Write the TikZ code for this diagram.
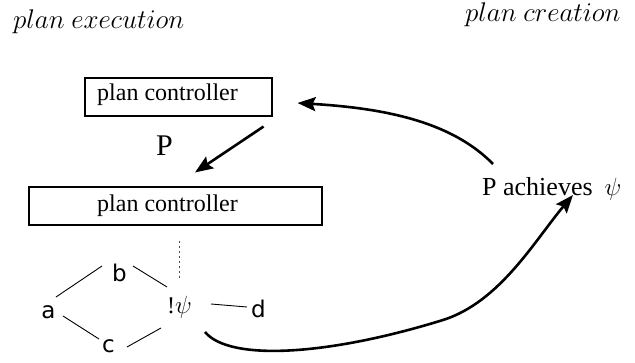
\documentclass[tikz,border=0pt]{standalone}
\usepackage{fontspec}
\setmainfont{Liberation Serif}
\newfontfamily\lettersf{DejaVu Sans}
\usetikzlibrary{arrows.meta}
\begin{document}
\begin{tikzpicture}[x=1pt,y=-1pt,
  pcbox/.style={draw,line width=1.1pt,inner sep=0pt},
  serif/.style={inner sep=0pt,anchor=base west,font=\fontsize{24}{28}\selectfont},
  heading/.style={inner sep=0pt,anchor=base west,scale=1.085,font=\fontsize{24.88}{30}\selectfont},
  letter/.style={inner sep=0pt,anchor=base,font=\lettersf\fontsize{23}{27}\selectfont},
  thin/.style={line width=0.9pt},
  arr/.style={line width=2.6pt,-{Stealth[length=18pt,width=14pt,inset=3pt]}}]
\useasboundingbox (0,0) rectangle (635,362);

% column headings
\node[heading] (exec) at (13,28) {$plan\ execution$};
\node[heading] (crea) at (465,21) {$plan\ creation$};

% the two controller boxes
\node[pcbox,minimum width=187pt,minimum height=38pt] (pc1) at (178.5,97) {};
\node[serif] (pc1t) at (97,100.5) {plan controller};
\node[pcbox,minimum width=293pt,minimum height=38pt] (pc2) at (175.5,206) {};
\node[serif] (pc2t) at (97,211.5) {plan controller};

% plan label
\node[inner sep=0pt,anchor=base west,font=\fontsize{30}{34}\selectfont] (plab) at (156,155) {P};

% goal description
\node[serif,font=\fontsize{26}{30}\selectfont] (ach) at (482,195) {P achieves\hspace{12pt}$\psi$};

% small goal graph
\node[letter] (a) at (48.5,318) {a};
\node[letter] (b) at (119.5,281) {b};
\node[letter] (c) at (108.5,352) {c};
\node[letter] (d) at (258.5,317) {d};
\node[serif] (psi) at (167,313) {!$\psi$};

\draw[thin] ([shift={(7.5,-21)}]a.base) -- ([shift={(-17.5,-15)}]b.base);
\draw[thin] ([shift={(13.5,-15)}]b.base) -- ([shift={(0,-26)}]psi.base west);
\draw[thin] ([shift={(14.5,-2)}]a.base) -- ([shift={(-9.5,-13)}]c.base);
\draw[thin] ([shift={(18.5,-5)}]c.base) -- ([shift={(-6,15)}]psi.base west);
\draw[thin] ([shift={(44,-9)}]psi.base west) -- ([shift={(-11.5,-10)}]d.base);
\draw[line width=0.8pt,dash pattern=on 2.5pt off 2.5pt,black!70]
  ([shift={(3.5,15)}]pc2.south) -- ([shift={(12,-35)}]psi.base west);

% arrows
\draw[arr] ([shift={(-9,10)}]pc1.south east) -- ([shift={(19.5,-14)}]pc2.north);
\draw[arr] ([shift={(11,-31)}]ach.base west) .. controls (450,120) and (380,108) .. ([shift={(25,6)}]pc1.east);
\draw[arr] ([shift={(38,19)}]psi.base west) .. controls (230,362) and (330,355) .. (443,320)
  .. controls (500,302) and (535,240) .. ([shift={(91,0)}]ach.base west);
\end{tikzpicture}
\end{document}
